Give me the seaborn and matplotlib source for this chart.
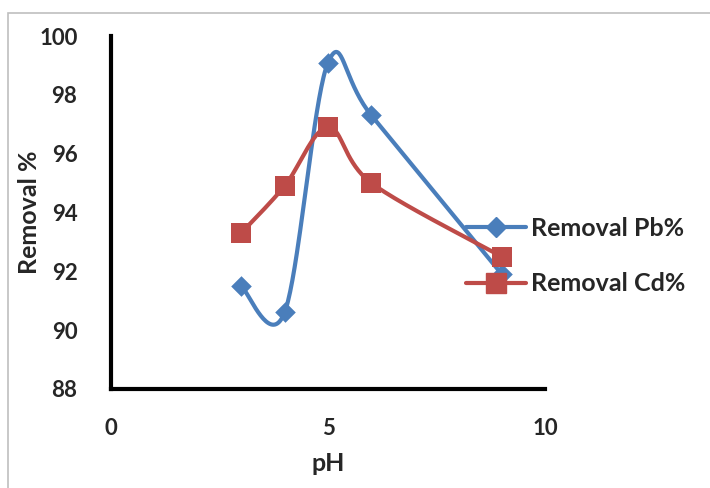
import numpy as np
import pandas as pd
import matplotlib
matplotlib.use("Agg")
import matplotlib.pyplot as plt
from matplotlib.lines import Line2D
from matplotlib.patches import Rectangle
import seaborn as sns

ph = [3, 4, 5, 6, 9]
removal_pb = [91.5, 90.6, 99.1, 97.3, 91.9]
removal_cd = [93.3, 94.9, 96.9, 95.0, 92.5]
x_ticks = [0, 5, 10]
y_ticks = [88, 90, 92, 94, 96, 98, 100]

BLUE = "#4A7EBB"
RED = "#BE4B48"


def smooth(xs, ys, n=40):
    """Cubic Bezier smoothing through each point (spreadsheet-style smoothed line)."""
    p = np.column_stack([xs, ys]).astype(float)
    out = [p[0]]
    for i in range(len(p) - 1):
        p0 = p[i - 1] if i > 0 else p[i]
        p1, p2 = p[i], p[i + 1]
        p3 = p[i + 2] if i + 2 < len(p) else p[i + 1]
        c1 = p1 + (p2 - p0) / 6.0
        c2 = p2 - (p3 - p1) / 6.0
        t = np.linspace(0, 1, n)[1:, None]
        seg = ((1 - t) ** 3) * p1 + 3 * ((1 - t) ** 2) * t * c1 + 3 * (1 - t) * t ** 2 * c2 + t ** 3 * p2
        out.extend(seg)
    out = np.array(out)
    return out[:, 0], out[:, 1]


sns.set_style("white")
plt.rcParams["font.family"] = ["Lato", "DejaVu Sans"]
plt.rcParams["font.weight"] = "bold"

fig = plt.figure(figsize=(7.1, 4.88), dpi=100)
fig.patches.append(Rectangle((8 / 710, -0.1), 1.2, 1 - 13 / 488 + 0.1,
                             transform=fig.transFigure, fill=False,
                             edgecolor="#BFBFBF", linewidth=1.2))
ax = fig.add_axes([0.156, 0.203, 0.612, 0.723])

sx, sy = smooth(ph, removal_pb)
sns.lineplot(x=sx, y=sy, sort=False, color=BLUE, linewidth=3, ax=ax, estimator=None)
sns.scatterplot(x=ph, y=removal_pb, marker="D", s=110, color=BLUE, edgecolor=BLUE,
                linewidth=0, ax=ax, zorder=3)

cx, cy = smooth(ph, removal_cd)
sns.lineplot(x=cx, y=cy, sort=False, color=RED, linewidth=3, ax=ax, estimator=None)
sns.scatterplot(x=ph, y=removal_cd, marker="s", s=210, color=RED, edgecolor=RED,
                linewidth=0, ax=ax, zorder=4)

ax.set_xlim(0, 10)
ax.set_ylim(88, 100)
ax.set_xticks(x_ticks)
ax.set_yticks(y_ticks)
ax.tick_params(axis="both", length=0, labelsize=16)
ax.tick_params(axis="x", pad=21)
ax.tick_params(axis="y", pad=24)
for lab in ax.get_xticklabels() + ax.get_yticklabels():
    lab.set_fontweight("bold")

ax.set_xlabel("pH", fontsize=18, fontweight="bold", labelpad=9)
ax.set_ylabel("Removal %", fontsize=18, fontweight="bold")
ax.yaxis.set_label_coords(-0.16, 0.5)

for side in ["top", "right"]:
    ax.spines[side].set_visible(False)
for side in ["left", "bottom"]:
    ax.spines[side].set_color("black")
    ax.spines[side].set_linewidth(3)

handles = [
    Line2D([], [], color=BLUE, linewidth=3, marker="D", markersize=10),
    Line2D([], [], color=RED, linewidth=3, marker="s", markersize=14),
]
leg = fig.legend(handles, ["Removal Pb%", "Removal Cd%"], loc="center left",
                 bbox_to_anchor=(0.625, 0.475), frameon=False, handlelength=2.4,
                 handletextpad=0.2, labelspacing=1.3,
                 prop={"size": 18, "weight": "bold"})

fig.savefig("out.png", dpi=100)
